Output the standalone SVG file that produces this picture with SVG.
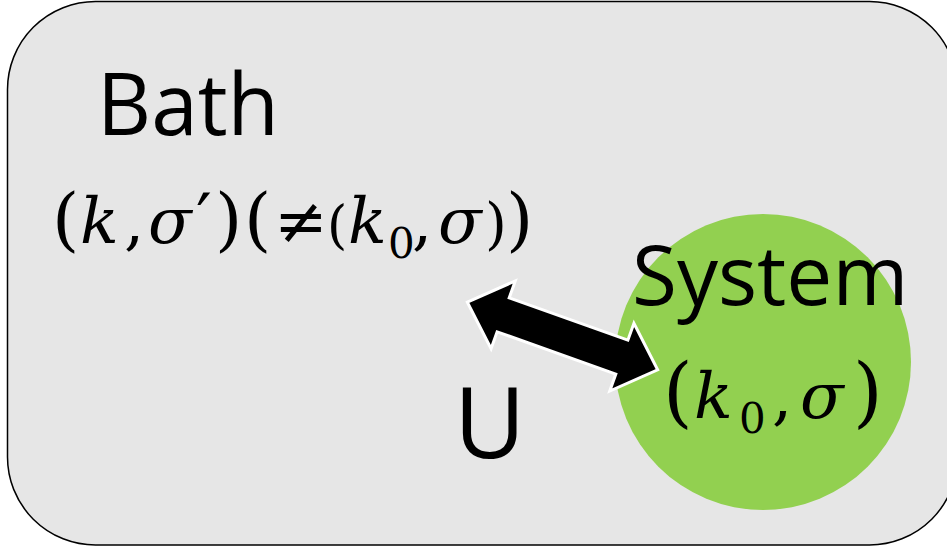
<svg xmlns="http://www.w3.org/2000/svg" width="947" height="552" viewBox="0 0 947 552">
<style>
.lbl{font-family:"Open Sans","Liberation Sans",sans-serif;fill:#000}
.m{font-family:"DejaVu Serif","Liberation Serif",serif;fill:#000}
.i{font-style:italic}
</style>
<rect width="947" height="552" fill="#ffffff"/>
<g id="bath">
<rect x="7.5" y="1.5" width="950" height="543.5" rx="88" ry="88" fill="#E6E6E6" stroke="#000" stroke-width="1.5"/>
<text class="lbl" x="97" y="135" font-size="86" textLength="182" lengthAdjust="spacingAndGlyphs">Bath</text>
<text class="m" y="243" font-size="64"><tspan x="52" font-size="70">(</tspan><tspan x="80" class="i">k</tspan><tspan x="124">,</tspan><tspan x="148" class="i">σ</tspan><tspan x="196" font-size="70">′</tspan><tspan x="215" font-size="70">)</tspan><tspan x="244" font-size="70">(</tspan><tspan x="274">≠</tspan><tspan x="327" font-size="52">(</tspan><tspan x="348" class="i">k</tspan><tspan x="388" y="258" font-size="42">0</tspan><tspan x="412" y="243">,</tspan><tspan x="438" class="i">σ</tspan><tspan x="485" font-size="56">)</tspan><tspan x="506" font-size="70">)</tspan></text>
</g>
<g id="system">
<circle cx="763" cy="362" r="148" fill="#92D050"/>
<text class="lbl" x="632" y="305" font-size="82">System</text>
<text class="m" y="418" font-size="64"><tspan x="663" font-size="76">(</tspan><tspan x="694" class="i">k</tspan><tspan x="739" y="433" font-size="42">0</tspan><tspan x="772" y="418">,</tspan><tspan x="800" class="i">σ</tspan><tspan x="853" font-size="76">)</tspan></text>
</g>
<g id="connectors">
<polygon transform="translate(562.5,336) rotate(19.6)" points="-101,0 -63,-36 -63,-18 63,-18 63,-36 101,0 63,36 63,18 -63,18 -63,36" fill="#000" stroke="#fff" stroke-width="3" stroke-linejoin="miter"/>
<text class="lbl" x="454" y="458" font-size="98">U</text>
</g>
</svg>
